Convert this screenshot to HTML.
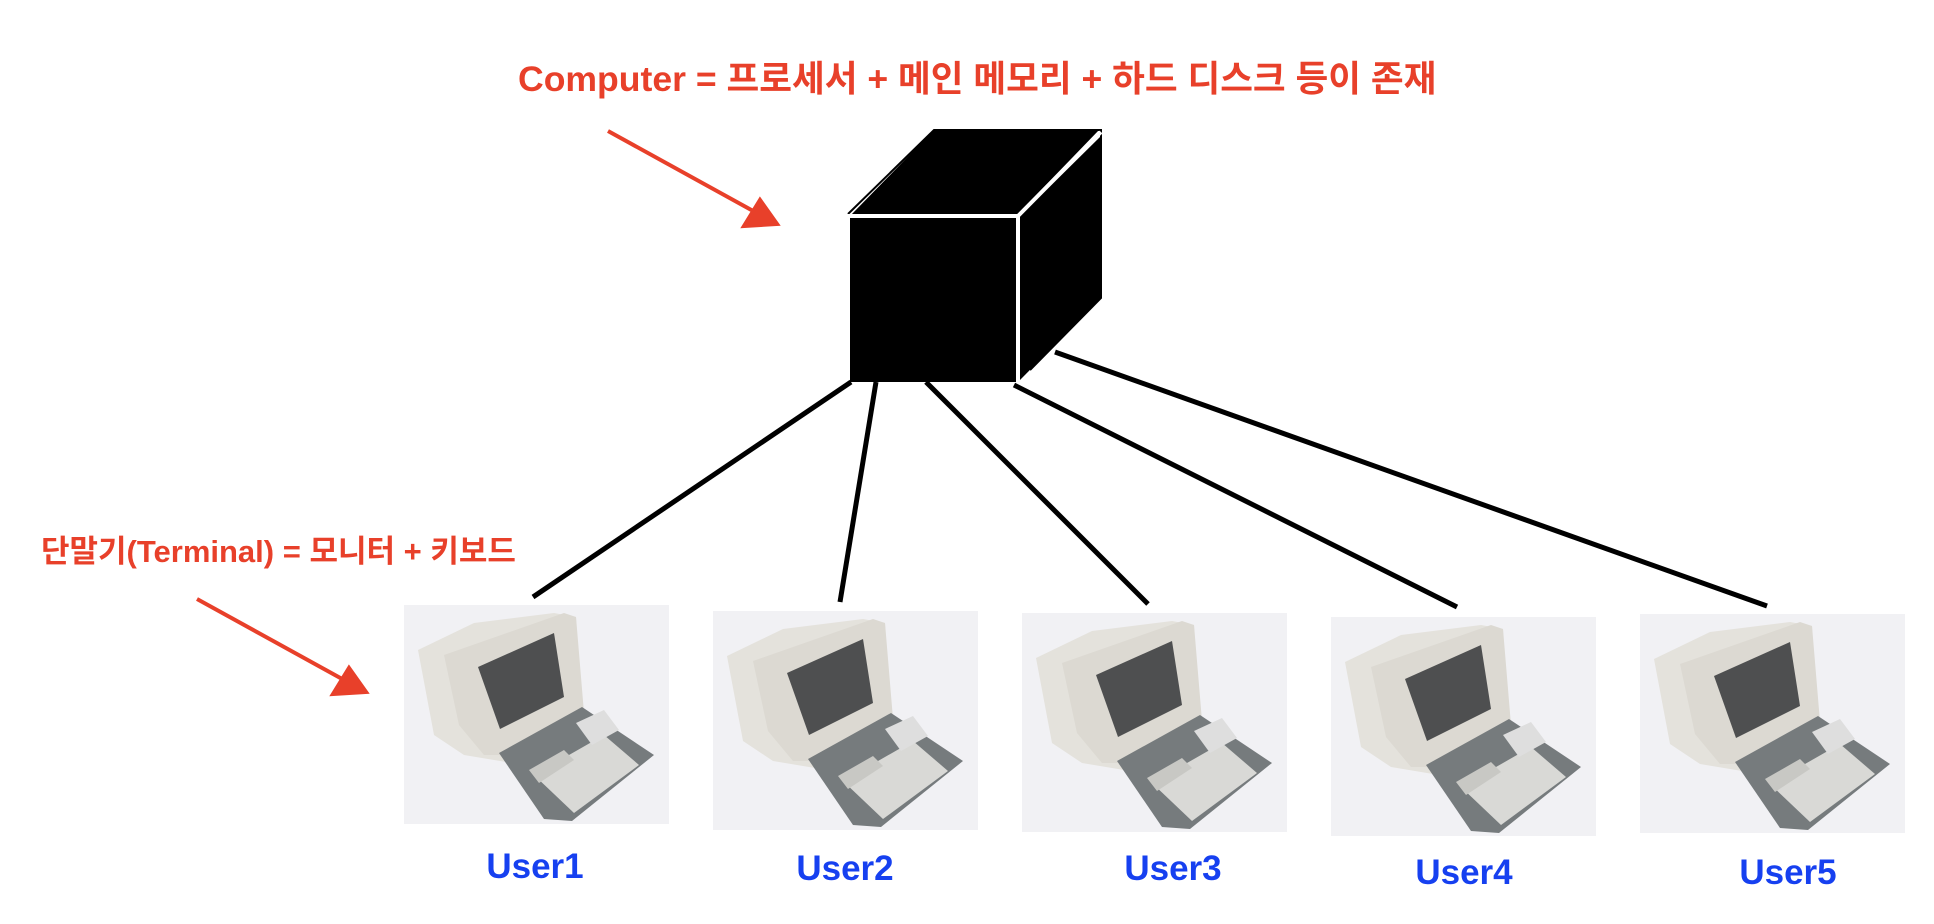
<!DOCTYPE html>
<html><head><meta charset="utf-8"><style>
body{margin:0;width:1934px;height:924px;background:#fff;overflow:hidden;position:relative;font-family:"Liberation Sans","Noto Sans CJK KR",sans-serif;font-weight:bold}
.t{position:absolute;white-space:nowrap;line-height:1}
.u{color:#1640f0;font-size:35px;transform:translateX(-50%)}
</style></head><body>
<svg width="1934" height="924" style="position:absolute;left:0;top:0">
<defs>
<g id="term">
<rect x="0" y="0" width="265" height="219" fill="#f1f1f4"/>
<polygon points="14,45 70,18 150,8 172,12 178,140 120,160 60,150 30,130" fill="#e4e2dc"/>
<polygon points="40,50 160,8 172,12 180,108 110,150 80,150 55,120" fill="#dcd9d2"/>
<polygon points="74,62 150,28 160,92 96,124" fill="#4e4f50"/>
<polygon points="95,148 178,102 250,150 168,216 140,214" fill="#767b7d"/>
<polygon points="130,170 200,130 235,160 170,208" fill="#d9d9d6"/>
<polygon points="172,118 200,105 215,125 188,140" fill="#dedede"/>
<polygon points="125,165 160,145 170,155 135,178" fill="#c8c8c4"/>
</g>
</defs>
<polygon points="850,216 934,130 1099,130 1016,216" fill="#000"/>
<polygon points="1020,216 1101,136 1101,298 1020,380" fill="#000"/>
<rect x="850" y="216" width="166" height="166" fill="#000"/>
<polyline points="848,214 934,130 1101,130 1101,298 1030,370" fill="none" stroke="#000" stroke-width="2"/>
<line x1="1018" y1="216" x2="1018" y2="384" stroke="#fff" stroke-width="4"/>
<line x1="848" y1="216" x2="1018" y2="216" stroke="#fff" stroke-width="4"/>
<line x1="1018" y1="216" x2="1101" y2="132" stroke="#fff" stroke-width="4"/>
<g stroke="#000" stroke-width="5" stroke-linecap="butt">
<line x1="851" y1="382" x2="533" y2="597"/>
<line x1="876" y1="382" x2="840" y2="602"/>
<line x1="926" y1="382" x2="1148" y2="604"/>
<line x1="1014" y1="385" x2="1457" y2="607"/>
<line x1="1055" y1="352" x2="1767" y2="606"/>
</g>
<g stroke="#e8402a" stroke-width="4" fill="#e8402a">
<line x1="608" y1="131" x2="755" y2="212"/>
<polygon points="744,226 760,200 777,224"/>
<line x1="197" y1="599" x2="344" y2="680"/>
<polygon points="333,694 349,668 366,692"/>
</g>
<use href="#term" x="404" y="605"/>
<use href="#term" x="713" y="611"/>
<use href="#term" x="1022" y="613"/>
<use href="#term" x="1331" y="617"/>
<use href="#term" x="1640" y="614"/>
</svg>
<div class="t" style="left:518px;top:62px;font-size:35.6px;color:#e8402a">Computer = 프로세서 + 메인 메모리 + 하드 디스크 등이 존재</div>
<div class="t" style="left:41px;top:536px;font-size:31px;color:#e8402a">단말기(Terminal) = 모니터 + 키보드</div>
<div class="t u" style="left:535px;top:849px">User1</div>
<div class="t u" style="left:845px;top:851px">User2</div>
<div class="t u" style="left:1173px;top:851px">User3</div>
<div class="t u" style="left:1464px;top:855px">User4</div>
<div class="t u" style="left:1788px;top:855px">User5</div>
</body></html>
